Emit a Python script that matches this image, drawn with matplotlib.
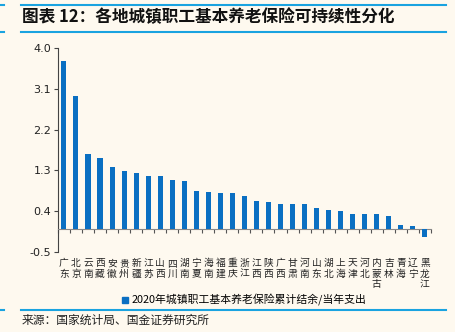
import numpy as np
import matplotlib.pyplot as plt
from matplotlib.lines import Line2D
from matplotlib.ticker import FixedLocator

plt.rcParams['font.family'] = ['Noto Sans CJK SC', 'DejaVu Sans']

provinces = ['广东', '北京', '云南', '西藏', '安徽', '贵州', '新疆', '江苏', '山西', '四川', '湖南',
             '宁夏', '海南', '福建', '重庆', '浙江', '江西', '陕西', '广西', '甘肃', '河南', '山东',
             '湖北', '上海', '天津', '河北', '内蒙古', '吉林', '青海', '辽宁', '黑龙江']
ratio = [3.72, 2.95, 1.66, 1.57, 1.37, 1.28, 1.23, 1.18, 1.17, 1.08, 1.07,
         0.84, 0.83, 0.79, 0.79, 0.73, 0.62, 0.59, 0.56, 0.56, 0.55, 0.47,
         0.43, 0.41, 0.34, 0.33, 0.33, 0.28, 0.08, 0.07, -0.17]
yticks = [-0.5, 0.4, 1.3, 2.2, 3.1, 4.0]
series_name = '2020年城镇职工基本养老保险累计结余/当年支出'

bg = '#fef9ef'
blue = '#0a6fc2'
line_blue = '#1aa3e0'

fig = plt.figure(figsize=(4.56, 3.32), dpi=100, facecolor=bg)
ax = fig.add_axes([0.127, 0.242, 0.818, 0.613], facecolor=bg)

x = np.arange(len(provinces))
ax.bar(x, ratio, width=0.42, color=blue, label=series_name, zorder=3)

ax.set_xlim(-0.5, len(provinces) - 0.5)
ax.set_ylim(-0.5, 4.0)
ax.set_yticks(yticks)
ax.set_yticklabels([f'{v:.1f}' for v in yticks], fontsize=8, color='#222222',
                   family=['DejaVu Sans'])
ax.tick_params(axis='y', direction='out', length=3, width=0.8, color='#444444', pad=2)

# category axis sits on zero, labels stacked vertically underneath
ax.spines['bottom'].set_position(('data', 0))
ax.spines['bottom'].set_color('#888888')
ax.spines['left'].set_color('#444444')
ax.spines['top'].set_visible(False)
ax.spines['right'].set_visible(False)
ax.set_xticks(x)
ax.set_xticklabels(['\n'.join(p) for p in provinces], fontsize=7, color='#222222',
                   linespacing=1.05, va='top')
ax.tick_params(axis='x', which='major', length=0, pad=21)
ax.xaxis.set_minor_locator(FixedLocator(np.arange(-0.5, len(provinces), 1.0)))
ax.tick_params(axis='x', which='minor', direction='out', length=3, width=0.8, color='#555555')

fig.legend(handles=[Line2D([], [], marker='s', color=blue, ls='none', markersize=5)],
           labels=[series_name], loc='center', bbox_to_anchor=(0.535, 0.095),
           frameon=False, fontsize=7.8, handletextpad=0.2, handlelength=0.8)

# header and footer rules
for y in (0.985, 0.905, 0.066):
    fig.add_artist(Line2D([0.045, 0.978], [y, y], color=line_blue, lw=1.5))
    fig.add_artist(Line2D([0.0, 0.008], [y, y], color=line_blue, lw=1.5))

fig.text(0.048, 0.948, '图表 12：各地城镇职工基本养老保险可持续性分化', fontsize=12,
         fontweight='bold', va='center', ha='left', color='#111111')
fig.text(0.048, 0.034, '来源：国家统计局、国金证券研究所', fontsize=8.5,
         va='center', ha='left', color='#222222')

fig.savefig('out.png', dpi=100, facecolor=bg)
